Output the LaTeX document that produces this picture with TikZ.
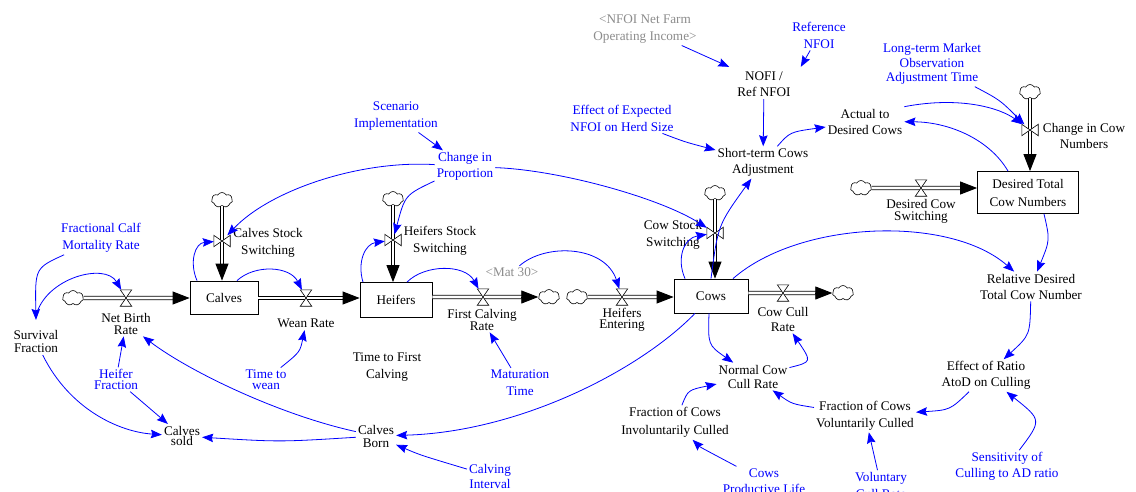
\documentclass[tikz,border=0pt]{standalone}
\usepackage{fontspec}
\setmainfont{Liberation Serif}
\usetikzlibrary{arrows.meta,shapes.symbols,calc}
\definecolor{vblue}{RGB}{0,0,255}
\definecolor{vgray}{RGB}{140,140,140}

\tikzset{
  lbl/.style={inner sep=2pt, align=center, font=\fontsize{13.2}{#1}\selectfont, text=black, yshift=-1.5pt},
  lbl/.default=16,
  cst/.style={lbl=#1, text=vblue},
  cst/.default=16,
  shd/.style={lbl=#1, text=vgray},
  shd/.default=16,
  stock/.style={draw, line width=0.8pt, fill=white, inner sep=0pt, align=center,
    font=\fontsize{13.2}{18}\selectfont},
  hvalve/.style={inner sep=0pt, minimum width=11pt, minimum height=16pt},
  vvalve/.style={inner sep=0pt, minimum width=16pt, minimum height=11pt},
  sink/.style={cloud, cloud puffs=7, cloud puff arc=120, aspect=1.4, draw, fill=white,
    inner sep=0pt, minimum width=21pt, minimum height=15pt, line width=0.6pt},
  pipe/.style={line width=0.9pt, double=white, double distance=2.6pt, shorten >=15pt},
  pipehead/.style={-{Triangle[length=17pt,width=13pt]}, line width=0.9pt},
  link/.style={vblue, line width=0.8pt, -{Stealth[length=11pt,width=8.5pt,inset=1.5pt]}},
}

% flow pipe from #1 to #2 with a solid head at #2
\newcommand\flowpipe[2]{%
  \draw[pipe] (#1) -- (#2);
  \draw[pipehead] ($(#2)!17pt!(#1)$) -- (#2);}
% valve glyphs drawn over the pipes
\newcommand\hvalvedraw[1]{\draw[line width=0.6pt, fill=white] (#1.north west) -- (#1.north east) -- (#1.south west) -- (#1.south east) -- cycle;}
\newcommand\vvalvedraw[1]{\draw[line width=0.6pt, fill=white] (#1.north west) -- (#1.south west) -- (#1.north east) -- (#1.south east) -- cycle;}

\begin{document}
\begin{tikzpicture}[x=1pt,y=-1pt]
\fill[white] (0,0) rectangle (1136,491);
\useasboundingbox (0,0) rectangle (1136,491);

% ---- stocks
\node[stock, minimum width=68pt, minimum height=33pt] (calves) at (224,297.5) {Calves};
\node[stock, minimum width=72pt, minimum height=35pt] (heifers) at (396,300) {Heifers};
\node[stock, minimum width=74pt, minimum height=34pt] (cows) at (711,296) {Cows};
\node[stock, minimum width=101pt, minimum height=42pt] (dtcn) at (1028,192.5) {Desired Total\\Cow Numbers};

% ---- valves
\node[hvalve] (nbv) at (126,298) {};
\node[vvalve] (csv) at (222,241) {};
\node[hvalve] (wrv) at (306,298) {};
\node[vvalve] (hsv) at (393,240) {};
\node[hvalve] (fcrv) at (483,297) {};
\node[hvalve] (hev) at (622,297) {};
\node[vvalve] (cssv) at (715,233) {};
\node[hvalve] (ccv) at (783,293) {};
\node[hvalve] (dcsv) at (921,188) {};
\node[vvalve] (cicv) at (1030,130) {};

% ---- sources and sinks
\node[sink] (c1) at (73,298) {};
\node[sink] (c2) at (222,200) {};
\node[sink] (c3) at (393,199) {};
\node[sink] (c4) at (549,297) {};
\node[sink] (c5) at (577,297) {};
\node[sink] (c6) at (715,193) {};
\node[sink] (c7) at (843,293) {};
\node[sink] (c8) at (861,188) {};
\node[sink] (c9) at (1030,92) {};

% ---- pipe end points
\coordinate (e1) at (calves.west |- c1);
\coordinate (e2) at (calves.north -| c2);
\coordinate (s3) at (calves.east |- wrv);
\coordinate (e3) at (heifers.west |- wrv);
\coordinate (e4) at (heifers.north -| c3);
\coordinate (s5) at (heifers.east |- fcrv);
\coordinate (e6) at (cows.west |- hev);
\coordinate (e7) at (cows.north -| c6);
\coordinate (s8) at (cows.east |- ccv);
\coordinate (e9) at (dtcn.west |- dcsv);
\coordinate (e10) at (dtcn.north -| c9);

\flowpipe{c1.east}{e1}
\flowpipe{c2.south}{e2}
\flowpipe{s3}{e3}
\flowpipe{c3.south}{e4}
\flowpipe{s5}{c4.west}
\flowpipe{c5.east}{e6}
\flowpipe{c6.south}{e7}
\flowpipe{s8}{c7.west}
\flowpipe{c8.east}{e9}
\flowpipe{c9.south}{e10}

\hvalvedraw{nbv}
\vvalvedraw{csv}
\hvalvedraw{wrv}
\vvalvedraw{hsv}
\hvalvedraw{fcrv}
\hvalvedraw{hev}
\vvalvedraw{cssv}
\hvalvedraw{ccv}
\hvalvedraw{dcsv}
\vvalvedraw{cicv}

% ---- variables
\node[shd=17] (nfoi) at (645,27.5) {<NFOI Net Farm\\Operating Income>};
\node[cst=17] (refnfoi) at (819,33.5) {Reference\\NFOI};
\node[lbl=16] (ratio) at (764,83) {NOFI /\\Ref NFOI};
\node[cst=14.5] (ltmoat) at (932,62.5) {Long-term Market\\Observation\\Adjustment Time};
\node[cst=17] (effexp) at (622,116.5) {Effect of Expected\\NFOI on Herd Size};
\node[lbl=16] (stca) at (763,161) {Short-term Cows\\Adjustment};
\node[lbl=16] (atdc) at (865,120) {Actual to\\Desired Cows};
\node[cst=17] (scen) at (396,114.5) {Scenario\\Implementation};
\node[cst=16] (cip) at (465,165) {Change in\\Proportion};
\node[lbl=16] (cicn) at (1084,134) {Change in Cow\\Numbers};
\node[lbl=12] (dcs) at (921,210) {Desired Cow\\Switching};

\node[cst=17] (fcmr) at (101,236.5) {Fractional Calf\\Mortality Rate};
\node[lbl=13.5] (sf) at (36,340) {Survival\\Fraction};
\node[lbl=12] (nbr) at (126,322) {Net Birth\\Rate};
\node[lbl] (wr) at (306,322) {Wean Rate};
\node[cst=10.5] (hf) at (116,378) {Heifer\\Fraction};
\node[lbl=10.5] (cs) at (182,434.5) {Calves\\sold};
\node[cst=10.5] (tw) at (266,378) {Time to\\wean};
\node[lbl=17] (ttfc) at (387,366) {Time to First\\Calving};
\node[lbl=12] (fcr) at (482,318) {First Calving\\Rate};
\node[shd] (mat) at (512,271) {<Mat 30>};
\node[cst=17] (mt) at (520,381.5) {Maturation\\Time};
\node[lbl=11] (he) at (622,318.5) {Heifers\\Entering};
\node[lbl=17] (css) at (268,241) {Calves Stock\\Switching};
\node[lbl=17] (hss) at (440,239.5) {Heifers Stock\\Switching};
\node[lbl=17] (cws) at (673,233.5) {Cow Stock\\Switching};
\node[lbl=15] (ccr) at (783,317.5) {Cow Cull\\Rate};
\node[lbl=13] (cb) at (376,434.5) {Calves\\Born};
\node[cst=15] (ci) at (490,474.5) {Calving\\Interval};
\node[lbl=14] (ncr) at (753,375) {Normal Cow\\Cull Rate};
\node[lbl=18] (fci) at (675,421) {Fraction of Cows\\Involuntarily Culled};
\node[lbl=17] (fcvc) at (865,414) {Fraction of Cows\\Voluntarily Culled};
\node[cst=16] (cpl) at (764,479.5) {Cows\\Productive Life};
\node[cst=17] (vcr) at (881,484) {Voluntary\\Cull Rate};
\node[cst=16] (scad) at (1007,465) {Sensitivity of\\Culling to AD ratio};
\node[lbl=16] (eor) at (986,374) {Effect of Ratio\\AtoD on Culling};
\node[lbl=16] (rdtcn) at (1031,285) {Relative Desired\\Total Cow Number};

% ---- causal links
\draw[link] (nfoi) -- ([xshift=-6pt,yshift=3pt]ratio.north west);
\draw[link] (refnfoi) -- ([xshift=8pt,yshift=3pt]ratio.north east);
\draw[link] (ratio) -- (stca);
\draw[link] (effexp) .. controls (685,142) .. (stca);
\draw[link] (stca) .. controls (790,132) .. (atdc);
\draw[link] ([xshift=-20pt]dtcn.north) .. controls (990,140) and (950,122) .. (atdc);
\draw[link] (ltmoat) .. controls (1000,100) .. (cicv);
\draw[link] (atdc.north east) .. controls (960,96) and (1000,108) .. (cicv);
\draw[link] ([xshift=16pt]dtcn.south) .. controls (1050,240) .. (rdtcn);
\draw[link] ([xshift=22pt]cows.north) .. controls (800,220) and (950,215) .. (rdtcn);
\draw[link] (rdtcn) .. controls (1030,335) .. (eor);
\draw[link] (eor) .. controls (950,410) .. (fcvc);
\draw[link] (scad) .. controls (1042,420) .. (eor);
\draw[link] (vcr) -- (fcvc);
\draw[link] (fcvc) .. controls (792,404) .. (ncr);
\draw[link] (fci) .. controls (688,390) .. (ncr);
\draw[link] (cpl) .. controls (700,447) .. (fci);
\draw[link] ([xshift=-2pt]cows.south) .. controls (708,345) .. (ncr);
\draw[link] (ncr) .. controls (812,362) .. (ccr);
\draw[link] (cows.north) .. controls (718,225) .. (stca);
\draw[link] ([xshift=-26pt]cows.north) .. controls (676,258) and (684,238) .. (cssv);
\draw[link] (cip) .. controls (560,170) and (660,198) .. (cssv);
\draw[link] (cip) .. controls (360,160) and (270,190) .. (csv);
\draw[link] (cip) .. controls (405,195) .. (hsv);
\draw[link] (scen) -- (cip);
\draw[link] ([xshift=-27pt]calves.north) .. controls (189,262) and (195,243) .. (csv);
\draw[link] ([xshift=-33pt]heifers.north) .. controls (357,262) and (365,244) .. (hsv);
\draw[link] ([xshift=13pt]calves.north) .. controls (255,264) and (290,266) .. (wrv);
\draw[link] ([xshift=11pt]heifers.north) .. controls (425,264) and (465,264) .. (fcrv);
\draw[link] (mat) .. controls (545,243) and (605,245) .. (hev);
\draw[link] (tw) .. controls (300,352) .. (wr);
\draw[link] (mt) -- (fcr);
\draw[link] (fcmr) .. controls (35,268) .. ([yshift=8pt]sf.north);
\draw[link] ([yshift=12pt]sf.north) .. controls (45,278) and (105,262) .. (nbv);
\draw[link] (sf) .. controls (70,410) and (120,432) .. (cs);
\draw[link] (hf) -- (nbr);
\draw[link] (hf) -- (cs);
\draw[link] (cb) .. controls (280,442) .. (cs);
\draw[link] (cb) .. controls (280,415) and (190,372) .. (nbr);
\draw[link] ([xshift=-16pt]cows.south) .. controls (640,370) and (520,432) .. (cb);
\draw[link] (ci) .. controls (420,455) .. (cb);
\end{tikzpicture}
\end{document}
